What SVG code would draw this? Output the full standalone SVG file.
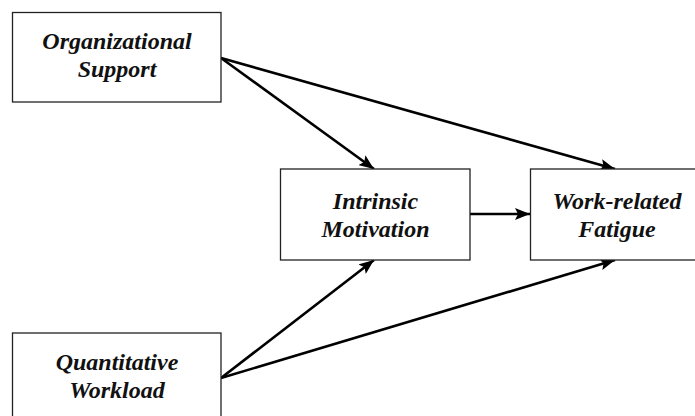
<svg xmlns="http://www.w3.org/2000/svg" width="695" height="416" viewBox="0 0 695 416">
<style>
.box{fill:#fff;stroke:#222;stroke-width:1.3}
.lbl{font-family:'Liberation Serif','Times New Roman',serif;font-weight:700;font-style:italic;font-size:24px;fill:#111;text-anchor:middle}
.edge{stroke:#000;stroke-width:2.6;fill:none;marker-end:url(#ah)}
</style>
<defs>
<marker id="ah" markerUnits="userSpaceOnUse" markerWidth="16" markerHeight="12" refX="15" refY="6" orient="auto">
<path d="M0,0 L15,6 L0,12 L3,6 Z" fill="#000"/>
</marker>
</defs>
<rect width="695" height="416" fill="#fff"/>
<g id="connectors">
<line class="edge" x1="221" y1="58" x2="374" y2="169"/>
<line class="edge" x1="221" y1="58" x2="615" y2="169"/>
<line class="edge" x1="221" y1="378" x2="374" y2="260"/>
<line class="edge" x1="221" y1="378" x2="615" y2="260"/>
<line class="edge" x1="470" y1="214" x2="530" y2="214"/>
</g>
<g id="organizational-support">
<rect class="box" x="12.5" y="12.5" width="208.5" height="89.5"/>
<text class="lbl" x="117" y="49">Organizational</text>
<text class="lbl" x="117" y="77">Support</text>
</g>
<g id="quantitative-workload">
<rect class="box" x="12.5" y="333" width="208.5" height="90"/>
<text class="lbl" x="117" y="370">Quantitative</text>
<text class="lbl" x="117" y="398">Workload</text>
</g>
<g id="intrinsic-motivation">
<rect class="box" x="280.5" y="169" width="189.5" height="91"/>
<text class="lbl" x="375.5" y="209">Intrinsic</text>
<text class="lbl" x="375.5" y="237">Motivation</text>
</g>
<g id="work-related-fatigue">
<rect class="box" x="530.5" y="169" width="175" height="91"/>
<text class="lbl" x="617" y="209">Work-related</text>
<text class="lbl" x="617" y="237">Fatigue</text>
</g>
</svg>
